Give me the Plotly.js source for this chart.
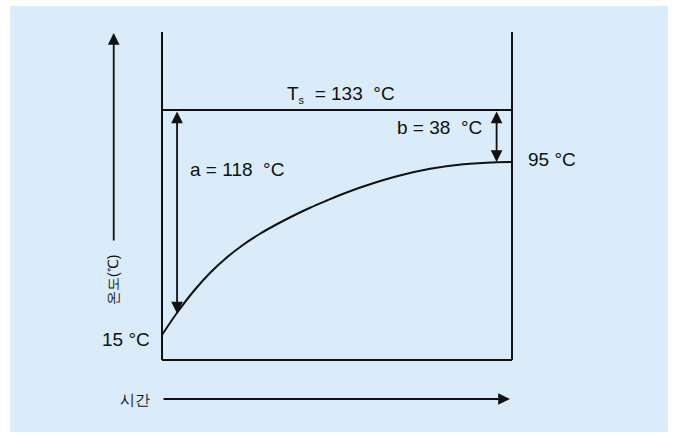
<!DOCTYPE html>
<html>
<head>
<meta charset="utf-8">
<script src="https://cdn.plot.ly/plotly-3.0.1.min.js"></script>
<style>html,body{margin:0;padding:0;background:#fff;}#chart{width:676px;height:433px;}</style>
</head>
<body>
<div id="chart"></div>
<script>
// ---- data (schematic heating curve) ----
// time axis: 0 = start, 10 = end of heating; level axis: schematic height (0 = base, 100 = Ts line)
const curveTime  = [0, 0.42, 0.89, 1.37, 1.85, 2.32, 2.80, 3.28, 3.75, 4.23, 4.71, 5.09, 5.75, 6.71, 7.66, 8.61, 9.56, 10];
const curveLevel = [10.0, 18.7, 27.3, 34.8, 41.0, 46.1, 50.5, 54.3, 57.7, 60.9, 63.8, 66.0, 69.4, 73.5, 76.5, 78.3, 79.1, 79.2];
const timeStart = 0, timeEnd = 10;
const baseLevel = 0, tsLevel = 100, wallTop = 131.2;
const endLevel = 79.2;
const aTime = 0.43, aLevel = 18.6;     // where arrow a meets the curve
const bTime = 9.56;
const labelTs = 'T<sub><span style="font-size:11px">s</span></sub>  = 133  °C';
const labelA = 'a = 118  °C';
const labelB = 'b = 38  °C';
const labelEnd = '95 °C';
const labelStart = '15 °C';
const labelTime = '시간';
const labelTemp = '온도(℃)';

const ink = '#111111';
const fnt = {family: '"Liberation Sans", Arial, Helvetica, sans-serif', size: 19, color: ink};

const traces = [
  { // left and right walls, base and Ts line
    type: 'scatter', mode: 'lines', hoverinfo: 'skip', showlegend: false,
    x: [timeStart, timeStart, null, timeEnd, timeEnd, null, timeStart, timeEnd, null, timeStart, timeEnd],
    y: [baseLevel, wallTop, null, baseLevel, wallTop, null, baseLevel, baseLevel, null, tsLevel, tsLevel],
    line: {color: ink, width: 2}
  },
  { // heating curve
    type: 'scatter', mode: 'lines', hoverinfo: 'skip', showlegend: false,
    x: curveTime, y: curveLevel,
    line: {color: ink, width: 2, shape: 'spline', smoothing: 1}
  }
];

function arrow(x, y, ax, ay, both) {
  return {x: x, y: y, ax: ax, ay: ay, xref: 'x', yref: 'y', axref: 'x', ayref: 'y',
    text: '', showarrow: true, arrowhead: 2, arrowsize: 1.3, arrowwidth: 1.8, arrowcolor: ink,
    arrowside: both ? 'end+start' : 'end', standoff: 0, startstandoff: 0};
}
function label(text, x, y, xanchor, extra) {
  return Object.assign({x: x, y: y, xref: 'x', yref: 'y', text: text, showarrow: false,
    xanchor: xanchor, yanchor: 'middle', font: fnt}, extra || {});
}

const annotations = [
  arrow(aTime, aLevel, aTime, tsLevel, true),
  arrow(bTime, endLevel, bTime, tsLevel, true),
  arrow(-1.38, 130.8, -1.38, 47.2, false),
  arrow(9.94, -15.6, timeStart, -15.6, false),
  label(labelTs, 5.11, 106.4, 'center'),
  label(labelB, 9.2, 93.2, 'right'),
  label(labelEnd, 10.4, 80.4, 'left'),
  label(labelA, 0.74, 76.4, 'left'),
  label(labelStart, -0.29, 8.2, 'right'),
  label(labelTime, -0.3, -15.6, 'right', {font: Object.assign({}, fnt, {size: 15})}),
  label(labelTemp, -1.4, 32, 'center', {textangle: -90, font: Object.assign({}, fnt, {size: 14})})
];

const layout = {
  width: 676, height: 433,
  margin: {l: 0, r: 0, t: 0, b: 0},
  paper_bgcolor: '#ffffff',
  plot_bgcolor: '#daecfa',
  showlegend: false,
  xaxis: {domain: [10/676, 668/676], range: [-4.343, 14.457], visible: false, fixedrange: true},
  yaxis: {domain: [1/433, 427/433], range: [-28.8, 141.6], visible: false, fixedrange: true},
  annotations: annotations
};

Plotly.newPlot('chart', traces, layout, {displayModeBar: false, staticPlot: true});
</script>
</body>
</html>
